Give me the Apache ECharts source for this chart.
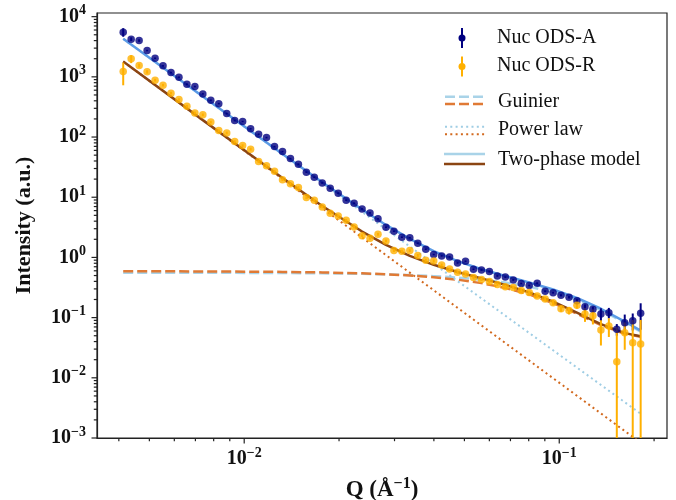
<!DOCTYPE html>
<html>
<head>
<meta charset="utf-8">
<script src="https://cdn.jsdelivr.net/npm/echarts@6/dist/echarts.min.js"></script>
<style>
  html, body { margin: 0; padding: 0; background: #fff; }
  #chart { width: 676px; height: 500px; }
</style>
</head>
<body>
<div id="chart"></div>
<script>
// measured Q values (1/A), log spaced
const qValues = [0.00413, 0.004377, 0.00464, 0.004918, 0.005213, 0.005525, 0.005856, 0.006207, 0.006579, 0.006973,
  0.007391, 0.007834, 0.008303, 0.008801, 0.009328, 0.009886, 0.01048, 0.01111, 0.01177, 0.01248,
  0.01323, 0.01402, 0.01486, 0.01575, 0.01669, 0.01769, 0.01875, 0.01988, 0.02107, 0.02233,
  0.02367, 0.02508, 0.02659, 0.02818, 0.02987, 0.03166, 0.03355, 0.03556, 0.03769, 0.03995,
  0.04234, 0.04487, 0.04756, 0.05041, 0.05343, 0.05663, 0.06002, 0.06361, 0.06742, 0.07146,
  0.07574, 0.08028, 0.08511, 0.0902, 0.09561, 0.1013, 0.1074, 0.1138, 0.1207, 0.1279,
  0.1356, 0.1437, 0.1523, 0.1614, 0.1711, 0.1813]

const odsA = [5530, 4230, 4010, 2735, 2040, 1524, 1178, 988, 756, 690,
  521, 409, 359, 245, 188, 181, 137, 111.5, 98, 69.4,
  57.3, 43.8, 35.4, 26.1, 21.5, 17.3, 14.1, 11.7, 8.93, 7.96,
  6.40, 5.49, 4.37, 3.18, 2.72, 2.17, 2.13, 1.72, 1.37, 1.12,
  1.06, 1.02, 0.81, 0.865, 0.637, 0.620, 0.585, 0.493, 0.471, 0.423,
  0.370, 0.343, 0.373, 0.274, 0.260, 0.235, 0.218, 0.191, 0.152, 0.138,
  0.115, 0.121, 0.0641, 0.0824, 0.0891, 0.118]
const errA = [900, 300, 200, 80, 60, 45, 35, 30, 23, 21,
  16, 12, 11, 7, 6, 5, 4, 3.3, 3, 2.1,
  1.7, 1.3, 1.1, 0.8, 0.65, 0.52, 0.42, 0.35, 0.27, 0.24,
  0.19, 0.16, 0.13, 0.1, 0.08, 0.07, 0.06, 0.05, 0.04, 0.035,
  0.032, 0.031, 0.025, 0.026, 0.02, 0.019, 0.018, 0.016, 0.015, 0.014,
  0.012, 0.012, 0.013, 0.01, 0.01, 0.01, 0.01, 0.012, 0.013, 0.014,
  0.028, 0.024, 0.014, 0.03, 0.028, 0.055]

const odsR = [1224, 1990, 1541, 1210, 881, 728, 536, 420, 326, 252,
  234, 177, 128, 117, 84.1, 72.1, 62.9, 39.1, 33.2, 27.1,
  19.6, 16.7, 14.5, 9.86, 8.93, 6.90, 5.43, 4.90, 4.15, 3.21,
  2.30, 2.08, 2.43, 1.88, 1.30, 1.27, 1.30, 1.08, 0.898, 0.875,
  0.751, 0.644, 0.568, 0.532, 0.465, 0.431, 0.399, 0.356, 0.327, 0.317,
  0.283, 0.262, 0.229, 0.204, 0.177, 0.141, 0.131, 0.161, 0.115, 0.107,
  0.0624, 0.0727, 0.0185, 0.0562, 0.0383, 0.0365]
const errR = [500, 300, 120, 80, 45, 36, 27, 21, 16, 13,
  12, 9, 6.5, 6, 4.2, 3.6, 3.2, 2, 1.7, 1.4,
  1, 0.85, 0.75, 0.5, 0.45, 0.35, 0.28, 0.25, 0.21, 0.17,
  0.12, 0.11, 0.13, 0.1, 0.07, 0.07, 0.07, 0.06, 0.05, 0.05,
  0.04, 0.035, 0.03, 0.03, 0.026, 0.024, 0.022, 0.02, 0.02, 0.02,
  0.018, 0.018, 0.017, 0.016, 0.017, 0.016, 0.018, 0.02, 0.03, 0.03,
  0.028, 0.025, 0.052, 0.027, 0.053, 0.055]

// fitted curves
const modelQ = [0.00413, 0.007391, 0.01323, 0.01769, 0.02367, 0.02818, 0.03355, 0.03995, 0.04756,
  0.05663, 0.06742, 0.08028, 0.09561, 0.1138, 0.1356, 0.1614, 0.1813]
const guinierA = [0.559, 0.556, 0.5505, 0.5445, 0.5332, 0.5229, 0.5085, 0.489, 0.4625,
  0.4275, 0.383, 0.328, 0.2644, 0.197, 0.1329, 0.0822, 0.0584]
const guinierR = [0.590, 0.5854, 0.5752, 0.5638, 0.544, 0.526, 0.5015, 0.469, 0.4268,
  0.3741, 0.3116, 0.2428, 0.1742, 0.116, 0.0752, 0.054, 0.0481]
const twoPhaseA = [4277, 471.4, 52.38, 17.74, 6.239, 3.466, 2.028, 1.272, 0.867,
  0.636, 0.4905, 0.3835, 0.293, 0.2118, 0.1405, 0.0861, 0.0609]
const twoPhaseR = [1796, 191.0, 20.79, 7.149, 2.689, 1.62, 1.06, 0.754, 0.572,
  0.448, 0.3494, 0.2621, 0.1841, 0.121, 0.0778, 0.0553, 0.0489]
const powerQ = [0.00413, 0.1813]
const powerA = [4276, 0.00253]
const powerR = [1795, 0.000835]

const X_MIN = 0.00341
const X_MAX = 0.2198
const Y_MIN = 0.001
const Y_MAX = 11500

const xMajorTicks = [0.01, 0.1]
const xMinorTicks = [0.004, 0.005, 0.006, 0.007, 0.008, 0.009,
  0.02, 0.03, 0.04, 0.05, 0.06, 0.07, 0.08, 0.09, 0.2]
const yMajorTicks = [0.001, 0.01, 0.1, 1, 10, 100, 1000, 10000]
const yMinorTicks = []
for (let k = -3; k <= 3; k++) {
  for (let m = 2; m <= 9; m++) yMinorTicks.push(m * Math.pow(10, k))
}

const FONT = "'Liberation Serif', 'DejaVu Serif', serif"
const INK = '#111'

function zip(a, b, c) {
  return a.map(function(v, i) { return c ? [v, b[i], c[i]] : [v, b[i]] })
}

function powLabel(v) {
  const e = Math.log10(v)
  const r = Math.round(e)
  if (Math.abs(e - r) > 1e-6) return ''
  return '{b|10}{s|' + String(r).replace('-', '\u2212') + '}'
}

const labelRich = {
  b: { fontFamily: FONT, fontSize: 20, fontWeight: 'bold', color: INK, lineHeight: 26 },
  s: { fontFamily: FONT, fontSize: 14, fontWeight: 'bold', color: INK, verticalAlign: 'top', lineHeight: 16 }
}

function renderErrorBar(params, api) {
  const q = api.value(0)
  const v = api.value(1)
  const e = api.value(2)
  const lo = api.coord([q, Math.max(v - e, Y_MIN)])
  const hi = api.coord([q, v + e])
  return {
    type: 'line',
    shape: { x1: lo[0], y1: lo[1], x2: hi[0], y2: hi[1] },
    style: { stroke: api.visual('color'), lineWidth: 2 }
  }
}

function xTick(len) {
  return function(params, api) {
    const p = api.coord([api.value(0), Y_MIN])
    return { type: 'line', shape: { x1: p[0], y1: p[1], x2: p[0], y2: p[1] + len },
      style: { stroke: '#222', lineWidth: 1.2 } }
  }
}
function yTick(len) {
  return function(params, api) {
    const p = api.coord([X_MIN, api.value(1)])
    return { type: 'line', shape: { x1: p[0], y1: p[1], x2: p[0] - len, y2: p[1] },
      style: { stroke: '#222', lineWidth: 1.2 } }
  }
}

function modelLine(name, qs, vals, color, type, width) {
  return {
    name: name,
    type: 'line',
    data: zip(qs, vals),
    showSymbol: false,
    symbol: 'none',
    lineStyle: { color: color, width: width, type: type, cap: 'butt' },
    z: 2,
    silent: true
  }
}

const chart = echarts.init(document.getElementById('chart'))

chart.setOption({
  animation: false,
  backgroundColor: '#fff',
  grid: {
    left: 97, right: 9, top: 13, bottom: 62,
    outerBoundsMode: 'none',
    containLabel: false,
    show: true, borderColor: '#222', borderWidth: 1.2, backgroundColor: 'transparent'
  },
  xAxis: {
    type: 'log',
    min: X_MIN,
    max: X_MAX,
    name: '{t|Q (\u00c5}{s|\u22121}{t|)}',
    nameLocation: 'middle',
    nameGap: 38,
    nameTextStyle: {
      rich: {
        t: { fontFamily: FONT, fontSize: 23, fontWeight: 'bold', color: INK, lineHeight: 28 },
        s: { fontFamily: FONT, fontSize: 16, fontWeight: 'bold', color: INK, verticalAlign: 'top', lineHeight: 18 }
      }
    },
    axisLine: { show: true, lineStyle: { color: '#222', width: 1.2 } },
    axisTick: { show: false },
    minorTick: { show: false },
    splitLine: { show: false },
    axisLabel: {
      margin: 8,
      formatter: powLabel,
      rich: labelRich,
      showMinLabel: false,
      showMaxLabel: false
    }
  },
  yAxis: {
    type: 'log',
    min: Y_MIN,
    max: Y_MAX,
    name: 'Intensity (a.u.)',
    nameLocation: 'middle',
    nameGap: 62,
    nameTextStyle: { fontFamily: FONT, fontSize: 22, fontWeight: 'bold', color: INK },
    axisLine: { show: true, lineStyle: { color: '#222', width: 1.2 } },
    axisTick: { show: false },
    minorTick: { show: false },
    splitLine: { show: false },
    axisLabel: {
      margin: 11,
      formatter: powLabel,
      rich: labelRich
    }
  },
  series: [
    modelLine('Guinier A', modelQ, guinierA, '#a9d3e8', [10, 4], 2.5),
    modelLine('Guinier R', modelQ, guinierR, '#e07a35', [10, 4], 2.5),
    modelLine('Power law A', powerQ, powerA, '#9fcde4', [2, 3.3], 2),
    modelLine('Power law R', powerQ, powerR, '#d2691e', [2, 3.3], 2),
    modelLine('Two-phase A', modelQ, twoPhaseA, '#5b9be6', 'solid', 2.5),
    modelLine('Two-phase R', modelQ, twoPhaseR, '#8b4513', 'solid', 2.5),
    {
      name: 'Nuc ODS-A err', type: 'custom', renderItem: renderErrorBar,
      data: zip(qValues, odsA, errA), encode: { x: 0, y: 1 },
      itemStyle: { color: '#000080' }, z: 3, clip: true, silent: true
    },
    {
      name: 'Nuc ODS-R err', type: 'custom', renderItem: renderErrorBar,
      data: zip(qValues, odsR, errR), encode: { x: 0, y: 1 },
      itemStyle: { color: '#ffb000' }, z: 3, clip: true, silent: true
    },
    {
      name: 'Nuc ODS-A', type: 'scatter', data: zip(qValues, odsA),
      symbol: 'circle', symbolSize: 7.5, itemStyle: { color: '#000080' }, z: 4
    },
    {
      name: 'Nuc ODS-R', type: 'scatter', data: zip(qValues, odsR),
      symbol: 'circle', symbolSize: 7.5, itemStyle: { color: '#ffb000' }, z: 4
    },
    {
      type: 'custom', renderItem: xTick(5.5), clip: false, silent: true, z: 5,
      data: xMajorTicks.map(function(v) { return [v, Y_MIN] }), encode: { x: 0, y: 1 }
    },
    {
      type: 'custom', renderItem: xTick(3.2), clip: false, silent: true, z: 5,
      data: xMinorTicks.map(function(v) { return [v, Y_MIN] }), encode: { x: 0, y: 1 }
    },
    {
      type: 'custom', renderItem: yTick(5.5), clip: false, silent: true, z: 5,
      data: yMajorTicks.map(function(v) { return [X_MIN, v] }), encode: { x: 0, y: 1 }
    },
    {
      type: 'custom', renderItem: yTick(3.2), clip: false, silent: true, z: 5,
      data: yMinorTicks.map(function(v) { return [X_MIN, v] }), encode: { x: 0, y: 1 }
    }
  ],
  // legend drawn by hand to get the paired line samples
  graphic: [
    { type: 'line', shape: { x1: 462, y1: 28, x2: 462, y2: 48 }, style: { stroke: '#000080', lineWidth: 2 } },
    { type: 'circle', shape: { cx: 462, cy: 38, r: 3.5 }, style: { fill: '#000080' } },
    { type: 'line', shape: { x1: 462, y1: 56.5, x2: 462, y2: 76.5 }, style: { stroke: '#ffb000', lineWidth: 2 } },
    { type: 'circle', shape: { cx: 462, cy: 66.5, r: 3.5 }, style: { fill: '#ffb000' } },
    { type: 'line', shape: { x1: 445, y1: 96.7, x2: 485, y2: 96.7 }, style: { stroke: '#a9d3e8', lineWidth: 2.5, lineDash: [10, 4] } },
    { type: 'line', shape: { x1: 445, y1: 104, x2: 485, y2: 104 }, style: { stroke: '#e07a35', lineWidth: 2.5, lineDash: [10, 4] } },
    { type: 'line', shape: { x1: 445, y1: 126.7, x2: 485, y2: 126.7 }, style: { stroke: '#9fcde4', lineWidth: 2, lineDash: [2, 3.3] } },
    { type: 'line', shape: { x1: 445, y1: 134.3, x2: 485, y2: 134.3 }, style: { stroke: '#d2691e', lineWidth: 2, lineDash: [2, 3.3] } },
    { type: 'line', shape: { x1: 444, y1: 154, x2: 485, y2: 154 }, style: { stroke: '#a9d3e8', lineWidth: 2.5 } },
    { type: 'line', shape: { x1: 444, y1: 164, x2: 485, y2: 164 }, style: { stroke: '#8b4513', lineWidth: 2.5 } },
    { type: 'text', x: 497, y: 38, style: { text: 'Nuc ODS-A', font: '20px ' + FONT, fill: INK, verticalAlign: 'middle' } },
    { type: 'text', x: 497, y: 66, style: { text: 'Nuc ODS-R', font: '20px ' + FONT, fill: INK, verticalAlign: 'middle' } },
    { type: 'text', x: 498, y: 101.5, style: { text: 'Guinier', font: '20px ' + FONT, fill: INK, verticalAlign: 'middle' } },
    { type: 'text', x: 498, y: 130, style: { text: 'Power law', font: '20px ' + FONT, fill: INK, verticalAlign: 'middle' } },
    { type: 'text', x: 498, y: 159.3, style: { text: 'Two-phase model', font: '20px ' + FONT, fill: INK, verticalAlign: 'middle' } }
  ]
})
</script>
</body>
</html>
